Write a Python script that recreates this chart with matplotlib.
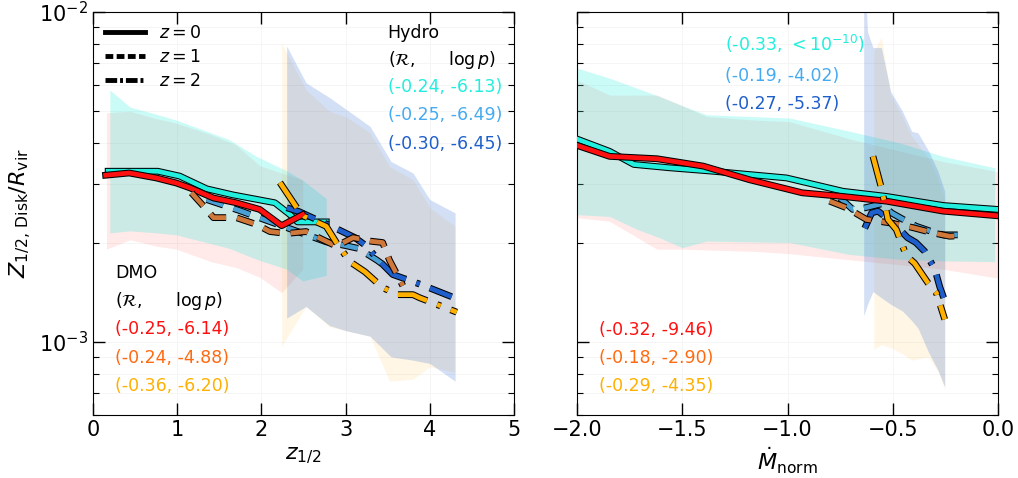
import numpy as np
import matplotlib
matplotlib.use("Agg")
import matplotlib.pyplot as plt
import matplotlib.patheffects as pe
from matplotlib.lines import Line2D

# all y values below are in units of 1e-3

# ---------------- left panel: x = z_1/2 ----------------
L_dmo0_x = [0.15, 0.43, 0.75, 0.99, 1.15, 1.43, 1.70, 1.98, 2.24, 2.49]
L_dmo0_y = [3.20, 3.25, 3.14, 3.03, 2.93, 2.73, 2.64, 2.52, 2.25, 2.43]
L_dmo1_x = [1.17, 1.33, 1.43, 1.70, 1.94, 2.10, 2.30, 2.53, 2.73, 2.89, 3.09, 3.29, 3.44, 3.52, 3.68]
L_dmo1_y = [2.83, 2.55, 2.38, 2.38, 2.27, 2.16, 2.13, 2.16, 2.04, 1.95, 2.07, 2.02, 2.00, 1.77, 1.48]
L_dmo2_x = [2.22, 2.42, 2.51, 2.77, 2.89, 3.05, 3.23, 3.44, 3.62, 3.80, 3.88, 4.32]
L_dmo2_y = [3.04, 2.55, 2.40, 2.24, 2.00, 1.75, 1.63, 1.46, 1.39, 1.39, 1.36, 1.23]
L_hyd0_x = [0.18, 0.77, 1.03, 1.35, 1.66, 2.16, 2.34, 2.43, 2.77]
L_hyd0_y = [3.29, 3.29, 3.18, 2.91, 2.79, 2.64, 2.43, 2.31, 2.31]
L_hyd1_x = [1.35, 1.74, 2.07, 2.43, 2.77, 2.99, 3.15, 3.37, 3.58]
L_hyd1_y = [2.70, 2.50, 2.33, 2.16, 2.01, 1.96, 1.92, 1.77, 1.62]
L_hyd2_x = [2.30, 2.45, 2.65, 2.85, 3.11, 3.25, 3.38, 3.56, 3.90, 4.26]
L_hyd2_y = [2.55, 2.48, 2.35, 2.23, 2.07, 1.95, 1.78, 1.60, 1.49, 1.37]

L_dmo0_bx = [0.16, 0.44, 0.75, 0.99, 1.40, 1.70, 1.98, 2.24, 2.49]
L_dmo0_lo = [1.91, 2.04, 1.95, 1.91, 1.75, 1.68, 1.57, 1.41, 1.66]
L_dmo0_hi = [4.95, 5.00, 4.75, 4.60, 4.25, 3.95, 3.42, 3.25, 3.10]
L_hyd0_bx = [0.20, 0.44, 0.75, 0.99, 1.35, 1.62, 1.94, 2.30, 2.49, 2.77]
L_hyd0_lo = [2.14, 2.17, 2.14, 2.11, 2.00, 1.92, 1.78, 1.66, 1.53, 1.59]
L_hyd0_hi = [5.80, 5.15, 4.90, 4.70, 4.35, 4.10, 3.65, 3.30, 3.09, 2.72]
L_dmo2_bx = [2.24, 2.53, 2.81, 3.01, 3.29, 3.52, 3.80, 4.00, 4.30]
L_dmo2_lo = [0.97, 1.28, 1.11, 1.08, 1.04, 0.76, 0.77, 0.84, 0.81]
L_dmo2_hi = [8.05, 5.80, 5.00, 4.80, 4.30, 3.40, 3.10, 2.55, 2.24]
L_hyd2_bx = [2.30, 2.53, 2.81, 3.01, 3.29, 3.54, 3.80, 4.00, 4.30]
L_hyd2_lo = [1.18, 1.28, 1.12, 1.08, 1.04, 0.90, 0.88, 0.86, 0.76]
L_hyd2_hi = [7.88, 6.10, 5.50, 5.06, 4.50, 3.52, 3.25, 2.70, 2.46]

# ---------------- right panel: x = Mdot_norm ----------------
R_dmo0_x = [-2.0, -1.845, -1.62, -1.40, -1.18, -0.93, -0.74, -0.53, -0.26, 0.0]
R_dmo0_y = [3.94, 3.65, 3.59, 3.41, 3.10, 2.83, 2.76, 2.67, 2.49, 2.41]
R_dmo1_x = [-0.80, -0.72, -0.625, -0.505, -0.405, -0.31, -0.23, -0.17]
R_dmo1_y = [2.67, 2.55, 2.35, 2.29, 2.22, 2.14, 2.09, 2.10]
R_dmo2_x = [-0.594, -0.554, -0.523, -0.483, -0.435, -0.396, -0.333, -0.293, -0.253]
R_dmo2_y = [3.65, 2.93, 2.35, 2.19, 1.82, 1.73, 1.51, 1.41, 1.17]
R_hyd0_x = [-2.0, -1.845, -1.73, -1.56, -1.354, -1.005, -0.736, -0.53, -0.26, 0.0]
R_hyd0_y = [4.12, 3.78, 3.45, 3.37, 3.29, 3.14, 2.86, 2.76, 2.59, 2.52]
R_hyd1_x = [-0.75, -0.69, -0.63, -0.554, -0.506, -0.435, -0.388, -0.316, -0.26, -0.17]
R_hyd1_y = [2.73, 2.52, 2.55, 2.62, 2.46, 2.32, 2.24, 2.16, 2.11, 2.11]
R_hyd2_x = [-0.633, -0.60, -0.57, -0.53, -0.467, -0.43, -0.39, -0.348, -0.30, -0.277, -0.258]
R_hyd2_y = [2.21, 2.46, 2.49, 2.38, 2.19, 2.07, 2.00, 1.88, 1.66, 1.47, 1.36]

R_dmo0_bx = [-2.0, -1.845, -1.62, -1.50, -1.385, -1.15, -0.99, -0.69, -0.26, 0.0]
R_dmo0_lo = [2.38, 2.32, 1.91, 1.91, 1.90, 1.88, 1.85, 1.77, 1.66, 1.56]
R_dmo0_hi = [6.22, 5.60, 5.60, 5.20, 4.82, 4.70, 4.65, 4.10, 3.52, 3.28]
R_hyd0_bx = [-2.0, -1.845, -1.72, -1.61, -1.50, -1.385, -0.99, -0.705, -0.467, -0.261, -0.016]
R_hyd0_lo = [2.43, 2.40, 2.20, 2.07, 1.93, 2.02, 2.00, 1.84, 1.78, 1.76, 1.75]
R_hyd0_hi = [6.76, 6.30, 5.89, 5.55, 5.20, 4.88, 4.77, 4.35, 4.01, 3.65, 3.37]
R_dmo2_bx = [-0.59, -0.554, -0.51, -0.454, -0.41, -0.33, -0.285, -0.253]
R_dmo2_lo = [0.95, 0.98, 0.96, 0.92, 0.88, 0.90, 0.81, 0.72]
R_dmo2_hi = [7.60, 8.40, 5.60, 4.80, 4.20, 3.60, 3.10, 2.70]
R_hyd2_bx = [-0.638, -0.62, -0.594, -0.554, -0.51, -0.454, -0.41, -0.38, -0.33, -0.285, -0.253]
R_hyd2_lo = [1.20, 1.30, 1.42, 1.36, 1.30, 1.24, 1.16, 1.10, 0.93, 0.82, 0.73]
R_hyd2_hi = [15.0, 8.70, 7.80, 7.80, 5.74, 5.00, 4.35, 4.30, 3.79, 3.29, 2.86]

# correlation labels (R, log p)
L_hydro_txt = ["(-0.24, -6.13)", "(-0.25, -6.49)", "(-0.30, -6.45)"]
L_dmo_txt = ["(-0.25, -6.14)", "(-0.24, -4.88)", "(-0.36, -6.20)"]
R_hydro_txt = [r"(-0.33, $<10^{-10}$)", "(-0.19, -4.02)", "(-0.27, -5.37)"]
R_dmo_txt = ["(-0.32, -9.46)", "(-0.18, -2.90)", "(-0.29, -4.35)"]

c_red = "#ff1010"
c_orange_txt = "#ff6a10"
c_orange = "#d0783a"
c_gold = "#ffb000"
c_cyan = "#22eedd"
c_lblue_txt = "#45aaf0"
c_lblue = "#4aa0d4"
c_blue = "#1f5fcc"

E = 1e-3
LW = 3.4
DASH = (0, (3.7, 2.3))
DASHDOT = (0, (6.4, 2.3, 0.8, 2.3))
outline = [pe.Stroke(linewidth=LW + 1.5, foreground="k"), pe.Normal()]

plt.rcParams["font.family"] = "DejaVu Sans"
plt.rcParams["mathtext.fontset"] = "dejavusans"

fig = plt.figure(figsize=(10.18, 4.78), dpi=100)
axL = fig.add_axes([93 / 1018, 63 / 478, 421 / 1018, 403 / 478])
axR = fig.add_axes([577 / 1018, 63 / 478, 421 / 1018, 403 / 478])


def band(ax, x, lo, hi, color, alpha):
    ax.fill_between(x, np.array(lo) * E, np.array(hi) * E, color=color,
                    alpha=alpha, lw=0, zorder=1)


def line(ax, x, y, color, ls):
    ax.plot(x, np.array(y) * E, color=color, ls=ls, lw=LW,
            path_effects=outline, zorder=3)


# left panel
band(axL, L_dmo0_bx, L_dmo0_lo, L_dmo0_hi, c_red, 0.09)
band(axL, L_dmo2_bx, L_dmo2_lo, L_dmo2_hi, c_gold, 0.1)
band(axL, L_hyd0_bx, L_hyd0_lo, L_hyd0_hi, c_cyan, 0.23)
band(axL, L_hyd2_bx, L_hyd2_lo, L_hyd2_hi, c_blue, 0.2)
line(axL, L_hyd0_x, L_hyd0_y, c_cyan, "-")
line(axL, L_hyd1_x, L_hyd1_y, c_lblue, DASH)
line(axL, L_hyd2_x, L_hyd2_y, c_blue, DASHDOT)
line(axL, L_dmo0_x, L_dmo0_y, c_red, "-")
line(axL, L_dmo1_x, L_dmo1_y, c_orange, DASH)
line(axL, L_dmo2_x, L_dmo2_y, c_gold, DASHDOT)

# right panel
band(axR, R_dmo0_bx, R_dmo0_lo, R_dmo0_hi, c_red, 0.09)
band(axR, R_dmo2_bx, R_dmo2_lo, R_dmo2_hi, c_gold, 0.1)
band(axR, R_hyd0_bx, R_hyd0_lo, R_hyd0_hi, c_cyan, 0.23)
band(axR, R_hyd2_bx, R_hyd2_lo, R_hyd2_hi, c_blue, 0.2)
line(axR, R_hyd0_x, R_hyd0_y, c_cyan, "-")
line(axR, R_hyd1_x, R_hyd1_y, c_lblue, DASH)
line(axR, R_hyd2_x, R_hyd2_y, c_blue, DASHDOT)
line(axR, R_dmo0_x, R_dmo0_y, c_red, "-")
line(axR, R_dmo1_x, R_dmo1_y, c_orange, DASH)
line(axR, R_dmo2_x, R_dmo2_y, c_gold, DASHDOT)

for ax in (axL, axR):
    ax.set_yscale("log")
    ax.set_ylim(6e-4, 1e-2)
    ax.grid(True, which="both", color="0.96", lw=0.7)
    ax.tick_params(which="both", direction="in", top=True, right=True,
                   labelsize=15)
    ax.tick_params(which="major", length=8.5, width=1)
    ax.tick_params(which="minor", length=4.5, width=0.8)
    ax.set_axisbelow(True)

axL.set_xlim(0, 5)
axR.set_xlim(-2, 0)
axR.tick_params(labelleft=False)
axL.set_xlabel(r"$z_{1/2}$", fontsize=16)
axR.set_xlabel(r"$\dot{M}_{\rm norm}$", fontsize=16)
axL.set_ylabel(r"$Z_{1/2,\,\rm Disk}/R_{\rm vir}$", fontsize=16)

# legend for redshift line styles
handles = [
    Line2D([], [], color="k", lw=3.5, ls="-"),
    Line2D([], [], color="k", lw=3.5, ls=(0, (1.6, 0.7))),
    Line2D([], [], color="k", lw=3.5, ls=(0, (2.4, 0.6, 0.6, 0.6))),
]
axL.legend(handles, [r"$z=0$", r"$z=1$", r"$z=2$"], loc="upper left",
           frameon=False, fontsize=12.5, handlelength=2.3, labelspacing=0.35,
           borderaxespad=0.3)

fs = 12.5
hdr = r"($\mathcal{R}$,      $\log p$)"
tL = axL.transAxes
axL.text(0.70, 0.936, "Hydro", transform=tL, fontsize=fs, va="baseline")
axL.text(0.70, 0.868, hdr, transform=tL, fontsize=fs, va="baseline")
for s, c, yy in zip(L_hydro_txt, [c_cyan, c_lblue_txt, c_blue], [0.801, 0.731, 0.659]):
    axL.text(0.70, yy, s, transform=tL, fontsize=fs, color=c, va="baseline")
axL.text(0.052, 0.339, "DMO", transform=tL, fontsize=fs, va="baseline")
axL.text(0.052, 0.270, hdr, transform=tL, fontsize=fs, va="baseline")
for s, c, yy in zip(L_dmo_txt, [c_red, c_orange_txt, c_gold], [0.200, 0.130, 0.060]):
    axL.text(0.052, yy, s, transform=tL, fontsize=fs, color=c, va="baseline")

tR = axR.transAxes
for s, c, yy in zip(R_hydro_txt, [c_cyan, c_lblue_txt, c_blue], [0.903, 0.829, 0.760]):
    axR.text(0.352, yy, s, transform=tR, fontsize=fs, color=c, va="baseline")
for s, c, yy in zip(R_dmo_txt, [c_red, c_orange_txt, c_gold], [0.199, 0.130, 0.060]):
    axR.text(0.052, yy, s, transform=tR, fontsize=fs, color=c, va="baseline")

fig.savefig("out.png", dpi=100)
